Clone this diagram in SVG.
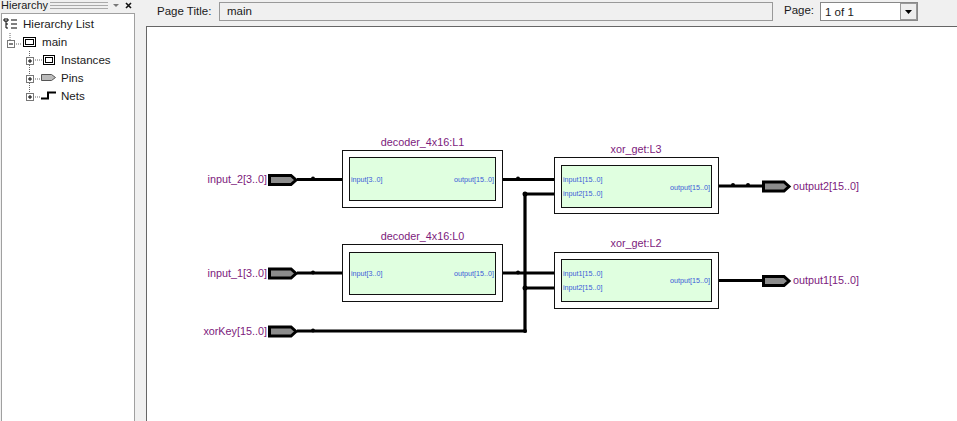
<svg xmlns="http://www.w3.org/2000/svg" width="957" height="421" viewBox="0 0 957 421">
<style>
text{font-family:"Liberation Sans",Arial,sans-serif}
.ui{font-size:11.500px;fill:#1a1a1a}
.head{font-size:11px;fill:#1a1a1a}
.tree{font-size:11.600px;fill:#1a1a1a}
.name{font-size:10.800px;fill:#7c1a7c}
.port{font-size:7.200px;fill:#3a5ad8}
.outer{fill:#fff;stroke:#111;stroke-width:1}
.inner{fill:#e0ffe0;stroke:#111;stroke-width:1}
.wire{fill:none;stroke:#000;stroke-width:3.200}
.pin{fill:#8c8c8c;stroke:#000;stroke-width:3}
.dot{fill:#000}
.dash{fill:none;stroke:#666;stroke-width:1;stroke-dasharray:1 1}
.ico{fill:none;stroke:#000;stroke-width:1}
</style>
<rect width="957" height="421" fill="#f0f0f0"/>
<g id="hierarchy-panel">
<text x="1" y="9" class="head">Hierarchy</text>
<path d="M50 2.500H108M50 5.500H108M50 8.500H108" stroke="#aaa" stroke-width="1"/>
<path d="M113 4h6l-3 3z" fill="#777"/>
<path d="M126 3l5 5M131 3l-5 5" stroke="#111" stroke-width="1.600"/>
<rect x="1.500" y="13.500" width="133" height="408" fill="#fff" stroke="#a0a0a0"/>
<path class="ico" d="M4 19h4v2h-4zM6 21v7h2M6 24h2M11 20h6M11 24h6M11 28h6"/>
<text x="23" y="28" class="tree">Hierarchy List</text>
<path class="dash" d="M10 33v7M14 44h8M29.500 51v41M33 60h9M33 79h8M33 97h8"/>
<rect x="7.500" y="40.500" width="7" height="7" fill="#fff" stroke="#777"/><path d="M9 44h4" stroke="#000"/>
<rect x="23.500" y="37.500" width="12" height="9" fill="#fff" stroke="#000"/><rect x="25.500" y="39.500" width="8" height="5" fill="#fff" stroke="#000"/>
<text x="42" y="46" class="tree">main</text>
<rect x="26.500" y="57.500" width="7" height="7" fill="#fff" stroke="#777"/><path d="M28 61h4M30 59v4" stroke="#000"/>
<rect x="43.500" y="55.500" width="11" height="9" fill="#fff" stroke="#000"/><rect x="45.500" y="57.500" width="7" height="5" fill="#fff" stroke="#000"/>
<text x="61" y="64" class="tree">Instances</text>
<rect x="26.500" y="75.500" width="7" height="7" fill="#fff" stroke="#777"/><path d="M28 79h4M30 77v4" stroke="#000"/>
<path d="M41.500 74.500h10l4 3-4 3h-10z" fill="#bbb" stroke="#555"/>
<text x="61" y="82" class="tree">Pins</text>
<rect x="26.500" y="93.500" width="7" height="7" fill="#fff" stroke="#777"/><path d="M28 97h4M30 95v4" stroke="#000"/>
<path d="M41 98.500h7v-6h8" fill="none" stroke="#000" stroke-width="2"/>
<text x="61" y="100" class="tree">Nets</text>
</g>
<g id="page-bar">
<text x="157" y="15" class="ui">Page Title:</text>
<rect x="219.500" y="2.500" width="553" height="18" fill="#f0f0f0" stroke="#999"/>
<text x="227" y="15" class="ui">main</text>
<text x="784" y="14" class="ui">Page:</text>
<rect x="820.500" y="2.500" width="97" height="18" fill="#fff" stroke="#888"/>
<text x="825" y="16" class="ui">1 of 1</text>
<rect x="900.500" y="3.500" width="16" height="16" fill="#eee" stroke="#999"/>
<path d="M905 10h7l-3.500 4z" fill="#000"/>
</g>
<rect id="canvas" x="146.500" y="26.500" width="811" height="395" fill="#fff" stroke="#666"/>
<g id="connectors">
<path class="wire" d="M297 179.500H343M297 273H343M297 331H525V194H555M502 179.500H555M502 273H555M525 288H555M718 186H762M718 280.500H762"/>
<circle class="dot" cx="313" cy="178.500" r="2"/><circle class="dot" cx="313" cy="272.500" r="2"/><circle class="dot" cx="313" cy="330.500" r="2"/>
<circle class="dot" cx="518" cy="178.500" r="2"/><circle class="dot" cx="518" cy="272.500" r="2"/>
<circle class="dot" cx="525" cy="194" r="2.500"/><circle class="dot" cx="525" cy="288" r="2.500"/><circle class="dot" cx="525" cy="331" r="2"/>
<circle class="dot" cx="733" cy="185" r="2"/><circle class="dot" cx="748" cy="185" r="2"/>
</g>
<g id="input_2"><path class="pin" d="M269.500 175.500H291L296 180L291 184.500H269.500Z"/><text x="267" y="183" text-anchor="end" class="name">input_2[3..0]</text></g>
<g id="input_1"><path class="pin" d="M269.500 269H291L296 273.500L291 278H269.500Z"/><text x="267" y="277" text-anchor="end" class="name">input_1[3..0]</text></g>
<g id="xorKey"><path class="pin" d="M269.500 327H291L296 331.500L291 336H269.500Z"/><text x="267" y="335" text-anchor="end" class="name">xorKey[15..0]</text></g>
<g id="output2"><path class="pin" d="M763.500 182H784L789 186.500L784 191H763.500Z"/><text x="793" y="190" class="name">output2[15..0]</text></g>
<g id="output1"><path class="pin" d="M763.500 276.500H784L789 281L784 285.500H763.500Z"/><text x="793" y="284" class="name">output1[15..0]</text></g>
<g id="decoder_L1"><rect class="outer" x="342.500" y="150.500" width="160" height="57"/><rect class="inner" x="349.500" y="157.500" width="146" height="43"/>
<text x="422.500" y="146" text-anchor="middle" class="name">decoder_4x16:L1</text><text x="351" y="182" class="port">input[3..0]</text><text x="494" y="182" text-anchor="end" class="port">output[15..0]</text></g>
<g id="decoder_L0"><rect class="outer" x="342.500" y="244.500" width="160" height="57"/><rect class="inner" x="349.500" y="252.500" width="146" height="42"/>
<text x="422.500" y="240" text-anchor="middle" class="name">decoder_4x16:L0</text><text x="351" y="276" class="port">input[3..0]</text><text x="494" y="276" text-anchor="end" class="port">output[15..0]</text></g>
<g id="xor_L3"><rect class="outer" x="554.500" y="157.500" width="164" height="56"/><rect class="inner" x="561.500" y="165.500" width="150" height="42"/>
<text x="636" y="153" text-anchor="middle" class="name">xor_get:L3</text><text x="563" y="182" class="port">input1[15..0]</text><text x="563" y="196" class="port">input2[15..0]</text><text x="710" y="189.500" text-anchor="end" class="port">output[15..0]</text></g>
<g id="xor_L2"><rect class="outer" x="554.500" y="252.500" width="164" height="56"/><rect class="inner" x="561.500" y="259.500" width="150" height="42"/>
<text x="636" y="247" text-anchor="middle" class="name">xor_get:L2</text><text x="563" y="276" class="port">input1[15..0]</text><text x="563" y="290" class="port">input2[15..0]</text><text x="710" y="283" text-anchor="end" class="port">output[15..0]</text></g>
</svg>
